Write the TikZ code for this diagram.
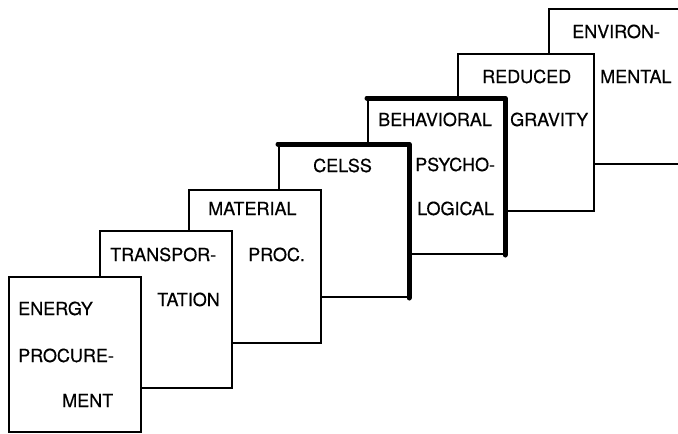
\documentclass[tikz,border=0pt]{standalone}
\usepackage{fontspec}
\setmainfont{TeX Gyre Heros}
\newfontfamily\cardfont{TeX Gyre Heros}[FakeBold=0.5]
\usepackage{tikz}
\usetikzlibrary{positioning}

\begin{document}
\begin{tikzpicture}[x=1pt,y=-1pt,
                card/.style={
                  draw, fill=white, line width=2pt, anchor=north west,
                  inner sep=0pt, minimum width=#1, minimum height=155pt
                },
                card/.default=134pt,
                heavy/.style={line width=5pt, line cap=round, line join=round},
                lbl/.style={anchor=base west, inner sep=0pt, font=\cardfont\fontsize{18}{20}\selectfont}
                ]
                \useasboundingbox (0,0) rectangle (678,434);
                % back to front
                \node [card=142pt] (environ) at (548,8) {};
                \node [lbl] (environ1) at (572,38) {ENVIRON-};
                \node [lbl] (environ2) at (600,83) {MENTAL};

                \node [card=136pt, minimum height=157pt] (gravity) at (457,53) {};
                \node [lbl] (gravity1) at (482,83) {REDUCED};
                \node [lbl] (gravity2) at (510,126) {GRAVITY};

                \node [card=136pt] (psych) at (367,98) {};
                \draw [heavy] (psych.north west) -- (psych.north east) -- (psych.south east);
                \node [lbl] (psych1) at (378,126) {BEHAVIORAL};
                \node [lbl] (psych2) at (415,171) {PSYCHO-};
                \node [lbl] (psych3) at (417,215) {LOGICAL};

                \node [card=129pt, minimum height=152pt] (celss) at (278,144) {};
                \draw [heavy] (celss.north west) -- (celss.north east) -- (celss.south east);
                \node [lbl] (celss1) at (313,172) {CELSS};

                \node [card=132pt, minimum height=153pt] (material) at (188,189) {};
                \node [lbl] (material1) at (208,215) {MATERIAL};
                \node [lbl] (material2) at (248,261) {PROC.};

                \node [card=132pt, minimum height=157pt] (transport) at (99,230) {};
                \node [lbl] (transport1) at (110,261) {TRANSPOR-};
                \node [lbl] (transport2) at (157,306) {TATION};

                \node [card=132pt] (energy) at (8,276) {};
                \node [lbl] (energy1) at (18,315) {ENERGY};
                \node [lbl] (energy2) at (18,362) {PROCURE-};
                \node [lbl] (energy3) at (62,407) {MENT};
\end{tikzpicture}
\end{document}
